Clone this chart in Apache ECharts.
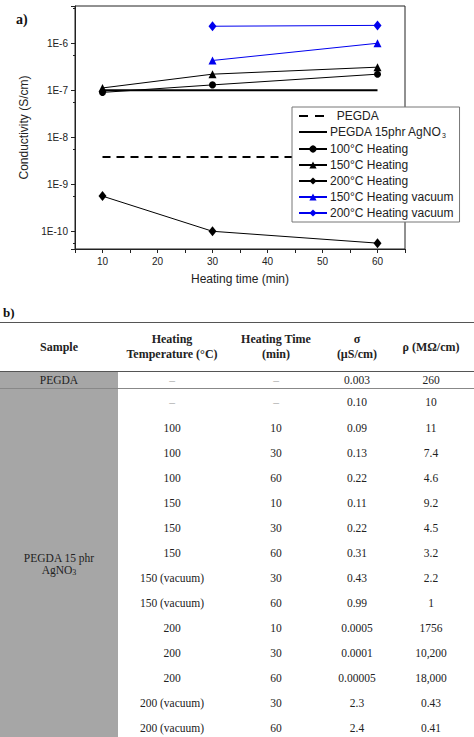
<!DOCTYPE html>
<html>
<head>
<meta charset="utf-8">
<script src="https://cdn.jsdelivr.net/npm/echarts@6/dist/echarts.min.js"></script>
<style>
  body { margin: 0; background: #fff; width: 474px; height: 737px; overflow: hidden; position: relative; }
  #chart { position: absolute; left: 0; top: 0; width: 474px; height: 300px; }
  #lblB { position: absolute; left: 3px; top: 305px; font: bold 13px "Liberation Serif", serif; color: #111; }
  #tbl { position: absolute; left: 0; top: 322px; width: 474px; border-collapse: collapse; table-layout: fixed;
         font: 11.5px "Liberation Serif", serif; color: #222; }
  #tbl td, #tbl th { padding: 0; text-align: center; vertical-align: middle; }
  #tbl th { font-weight: bold; font-size: 12px; line-height: 15px; height: 48px; border-top: 1px solid #555; border-bottom: 1px solid #555; }
  #tbl td.gray { background: #a6a6a6; }
  #tbl tr.first td { height: 16px; border-bottom: 1px solid #888; }
  #tbl tr.body td { height: 25px; }
  #tbl tr.body.top td { height: 26px; }
  .dash { color: #aaa; }
</style>
</head>
<body>
<div id="chart"></div>
<div id="lblB">b)</div>
<table id="tbl">
  <colgroup><col style="width:118px"><col style="width:108px"><col style="width:100px"><col style="width:62px"><col style="width:86px"></colgroup>
  <thead><tr><th>Sample</th><th>Heating<br>Temperature (°C)</th><th>Heating Time<br>(min)</th><th>σ<br>(µS/cm)</th><th>ρ (MΩ/cm)</th></tr></thead>
  <tbody id="tbody"></tbody>
</table>
<script>
// chart data (S/cm)
var times = [10, 30, 60];
var refTimes = [10, 60];
var vacTimes = [30, 60];
var pegdaLevel = [3.8e-9, 3.8e-9];
var agno3Level = [1e-7, 1e-7];
var heat100 = [9e-8, 1.3e-7, 2.2e-7];
var heat150 = [1.12e-7, 2.2e-7, 3.1e-7];
var heat200 = [5.6e-10, 1e-10, 5.6e-11];
var vac150 = [4.3e-7, 1e-6];
var vac200 = [2.3e-6, 2.4e-6];

// table data
var tblTemp = ['–', '100', '100', '100', '150', '150', '150', '150 (vacuum)', '150 (vacuum)', '200', '200', '200', '200 (vacuum)', '200 (vacuum)'];
var tblTime = ['–', '10', '30', '60', '10', '30', '60', '30', '60', '10', '30', '60', '30', '60'];
var tblSigma = ['0.10', '0.09', '0.13', '0.22', '0.11', '0.22', '0.31', '0.43', '0.99', '0.0005', '0.0001', '0.00005', '2.3', '2.4'];
var tblRho = ['10', '11', '7.4', '4.6', '9.2', '4.5', '3.2', '2.2', '1', '1756', '10,200', '18,000', '0.43', '0.41'];

function pairs(xs, ys) {
    var res = [];
    for (var i = 0; i < xs.length; i++) res.push([xs[i], ys[i]]);
    return res;
}

function cell(v) {
    return v === '–' ? '<td class="dash">–</td>' : '<td>' + v + '</td>';
}

var html = '<tr class="first"><td class="gray">PEGDA</td>' + cell('–') + cell('–') + cell('0.003') + cell('260') + '</tr>';
for (var i = 0; i < tblTemp.length; i++) {
    html += '<tr class="body' + (i === 0 ? ' top' : '') + '">';
    if (i === 0) html += '<td class="gray" rowspan="' + tblTemp.length + '">PEGDA 15 phr<br>AgNO<sub style="font-size:8px;vertical-align:-1px">3</sub></td>';
    html += cell(tblTemp[i]) + cell(tblTime[i]) + cell(tblSigma[i]) + cell(tblRho[i]) + '</tr>';
}
document.getElementById('tbody').innerHTML = html;

var myChart = echarts.init(document.getElementById('chart'), null, { renderer: 'svg' });
var font = 'Liberation Sans, Arial, sans-serif';

// legend icons for the plain lines (zero-area subpaths keep the bar thin)
var anchors = 'M0,0L28,0L0,0Z M0,9L28,9L0,9Z ';
var solidIcon = 'path://' + anchors + 'M0,3.5h28v2h-28z';
var dashIcon = 'path://' + anchors + 'M0,3.5h9v2h-9z M16,3.5h9v2h-9z';

var option = {
    animation: false,
    textStyle: { fontFamily: font },
    graphic: [{
        type: 'text', left: 16, top: 12,
        style: { text: 'a)', font: 'bold 14px "Liberation Serif", serif', fill: '#111' }
    }],
    grid: { left: 75, top: 6, width: 330, height: 243, show: true, borderColor: '#222', borderWidth: 1 },
    legend: {
        orient: 'vertical',
        left: 292, top: 107,
        padding: [3, 6, 3, 6],
        itemWidth: 28, itemHeight: 9, itemGap: 4,
        backgroundColor: '#fff',
        borderColor: '#777', borderWidth: 1,
        textStyle: {
            fontSize: 12, color: '#222', fontFamily: font, padding: [0, 0, 0, -2],
            rich: { sub: { fontSize: 7, verticalAlign: 'bottom', padding: [7, 0, 0, 0], fontFamily: font, color: '#222' } }
        },
        formatter: function (name) {
            if (name === 'PEGDA') return '  PEGDA';
            return name === 'PEGDA 15phr AgNO3' ? 'PEGDA 15phr AgNO{sub|3}' : name;
        },
        data: [
            { name: 'PEGDA', icon: dashIcon },
            { name: 'PEGDA 15phr AgNO3', icon: solidIcon },
            '100°C Heating', '150°C Heating', '200°C Heating', '150°C Heating vacuum', '200°C Heating vacuum'
        ]
    },
    xAxis: {
        type: 'value', min: 5, max: 65, interval: 5,
        name: 'Heating time (min)', nameLocation: 'middle', nameGap: 24,
        nameTextStyle: { fontSize: 12, color: '#222' },
        axisLine: { lineStyle: { color: '#222' } },
        axisTick: { length: 4, lineStyle: { color: '#222' } },
        axisLabel: { fontSize: 10, color: '#222', margin: 7, formatter: function (v) { return v % 10 === 0 ? v : ''; } },
        splitLine: { show: false }
    },
    yAxis: {
        type: 'log', logBase: 10, min: 4.2e-11, max: 6.2e-6,
        name: 'Conductivity (S/cm)', nameLocation: 'middle', nameGap: 38,
        nameTextStyle: { fontSize: 12, color: '#222' },
        axisLine: { lineStyle: { color: '#222' } },
        axisTick: { length: 4, lineStyle: { color: '#222' } },
        minorTick: { show: true, splitNumber: 2, length: 2, lineStyle: { color: '#222' } },
        axisLabel: {
            fontSize: 10, color: '#222', margin: 7,
            showMinLabel: false, showMaxLabel: false,
            formatter: function (v) { return '1E' + Math.round(Math.log10(v)); }
        },
        splitLine: { show: false }
    },
    series: [
        {
            name: 'PEGDA', type: 'line', data: pairs(refTimes, pegdaLevel), symbol: 'none',
            lineStyle: { color: '#000', width: 2, type: [8, 6] }, itemStyle: { color: '#000' }
        },
        {
            name: 'PEGDA 15phr AgNO3', type: 'line', data: pairs(refTimes, agno3Level), symbol: 'none',
            lineStyle: { color: '#000', width: 2 }, itemStyle: { color: '#000' }
        },
        {
            name: '100°C Heating', type: 'line', data: pairs(times, heat100), symbol: 'circle', symbolSize: 7,
            lineStyle: { color: '#000', width: 1 }, itemStyle: { color: '#000' }
        },
        {
            name: '150°C Heating', type: 'line', data: pairs(times, heat150), symbol: 'triangle', symbolSize: 8,
            lineStyle: { color: '#000', width: 1 }, itemStyle: { color: '#000' }
        },
        {
            name: '200°C Heating', type: 'line', data: pairs(times, heat200), symbol: 'diamond', symbolSize: [8, 10],
            lineStyle: { color: '#000', width: 1 }, itemStyle: { color: '#000' }
        },
        {
            name: '150°C Heating vacuum', type: 'line', data: pairs(vacTimes, vac150), symbol: 'triangle', symbolSize: 8,
            lineStyle: { color: '#0000ee', width: 1 }, itemStyle: { color: '#0000ee' }
        },
        {
            name: '200°C Heating vacuum', type: 'line', data: pairs(vacTimes, vac200), symbol: 'diamond', symbolSize: [8, 10],
            lineStyle: { color: '#0000ee', width: 1 }, itemStyle: { color: '#0000ee' }
        }
    ]
};

myChart.setOption(option);
window.addEventListener('resize', function () {
    myChart.resize();
});
</script>
</body>
</html>
